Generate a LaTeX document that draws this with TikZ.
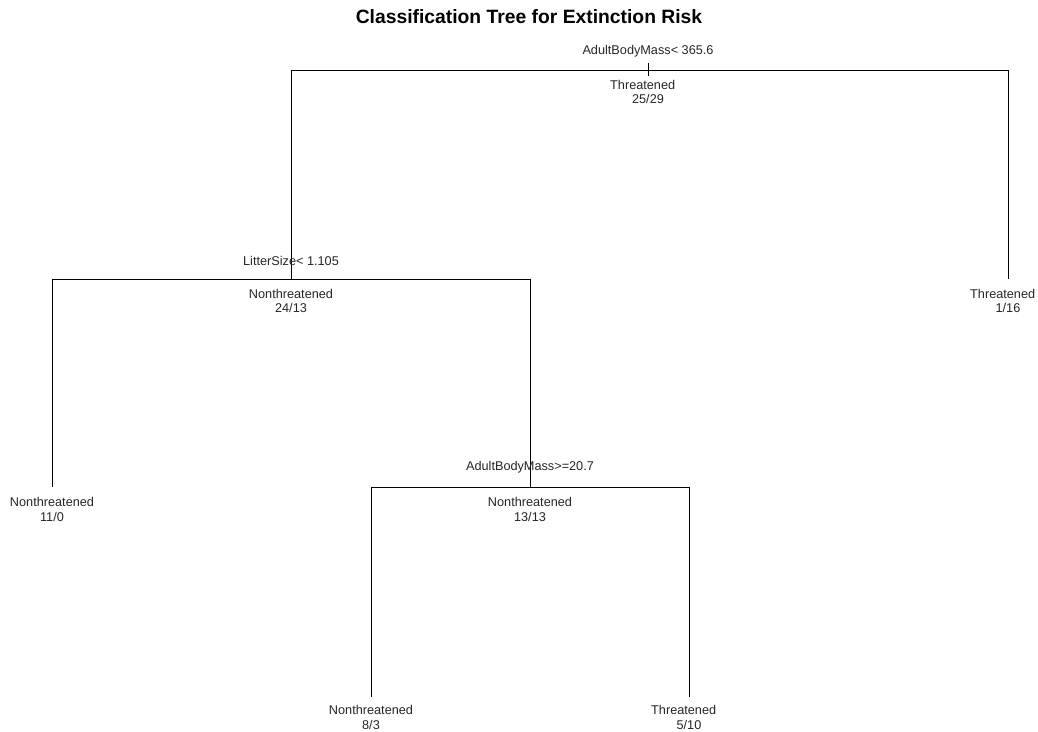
\documentclass[tikz,border=0pt]{standalone}
\usepackage{fontspec}
\setmainfont{Liberation Sans}
\newcommand{\thr}{Threatened\hspace*{10.6pt}}
\begin{document}
\begin{tikzpicture}[x=1pt,y=-1pt,
  lbl/.style={font=\fontsize{12.7}{14.5}\selectfont, inner sep=0pt, align=center, text=black!85},
  edge/.style={draw=black, line width=0.9pt}]
\useasboundingbox (0,0) rectangle (1038,731);
% title
\node[font=\bfseries\fontsize{19.3}{22}\selectfont, inner sep=0pt] (title) at (529,17) {Classification Tree for Extinction Risk};
% junction coordinates
\coordinate (rtop) at (648,63);
\coordinate (r) at (648,70);
\coordinate (rtick) at (648,76);
\coordinate (rl) at (291,70);
\coordinate (rr) at (1008,70);
\coordinate (n2) at (291,279);
\coordinate (n2l) at (52,279);
\coordinate (n2r) at (530,279);
\coordinate (n3leaf) at (1008,279);
\coordinate (l4) at (52,487);
\coordinate (n5) at (530,487);
\coordinate (n5l) at (371,487);
\coordinate (n5r) at (689,487);
\coordinate (l10) at (371,697);
\coordinate (l11) at (689,697);
% connectors
\draw[edge] (rtop) -- (rtick);
\draw[edge] (rl) -- (rr);
\draw[edge] (rl) -- (n2);
\draw[edge] (rr) -- (n3leaf);
\draw[edge] (n2l) -- (n2r);
\draw[edge] (n2l) -- (l4);
\draw[edge] (n2r) -- (n5);
\draw[edge] (n5l) -- (n5r);
\draw[edge] (n5l) -- (l10);
\draw[edge] (n5r) -- (l11);
% labels
\node[lbl] (s1) at (648,51) {AdultBodyMass< 365.6};
\node[lbl] (c1) at (648,92) {\thr\\25/29};
\node[lbl] (s2) at (291,261) {LitterSize< 1.105};
\node[lbl] (c2) at (291,301) {Nonthreatened\\24/13};
\node[lbl] (c3) at (1008,301) {\thr\\1/16};
\node[lbl] (c4) at (52,509.5) {Nonthreatened\\11/0};
\node[lbl] (s5) at (530,467.5) {AdultBodyMass>=20.7};
\node[lbl] (c5) at (530,509.5) {Nonthreatened\\13/13};
\node[lbl] (c10) at (371,717.5) {Nonthreatened\\8/3};
\node[lbl] (c11) at (689,717.5) {\thr\\5/10};
\end{tikzpicture}
\end{document}
